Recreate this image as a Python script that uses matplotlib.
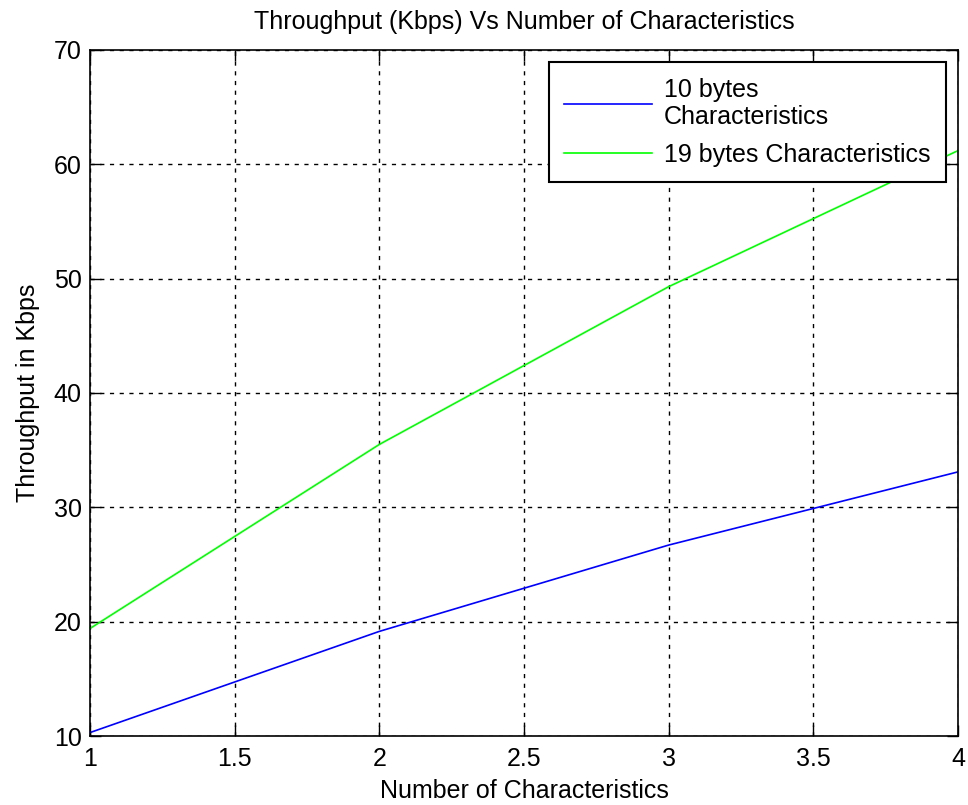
import matplotlib
matplotlib.use("Agg")
import matplotlib.pyplot as plt

plt.rcParams['font.family'] = ['Liberation Sans', 'DejaVu Sans']

num_chars = [1, 2, 3, 4]
thr_10 = [10.3, 19.15, 26.7, 33.1]
thr_19 = [19.4, 35.5, 49.3, 61.2]
labels = ['10 bytes\nCharacteristics', '19 bytes Characteristics']
xticks = [1, 1.5, 2, 2.5, 3, 3.5, 4]
yticks = [10, 20, 30, 40, 50, 60, 70]

FS = 18

fig = plt.figure(figsize=(9.68, 8.05), dpi=100)
ax = fig.add_axes([90/968, 1-736/805, (958-90)/968, (736-50)/805])

ax.plot(num_chars, thr_10, color='#0000ff', lw=1.2, label=labels[0])
ax.plot(num_chars, thr_19, color='#00ff00', lw=1.2, label=labels[1])

ax.set_xlim(1, 4)
ax.set_ylim(10, 70)
ax.set_xticks(xticks)
ax.set_xticklabels(['1', '1.5', '2', '2.5', '3', '3.5', '4'])
ax.set_yticks(yticks)
ax.grid(True, color='black', linestyle=(0, (3, 4)), linewidth=1)
ax.tick_params(direction='in', length=8, width=1, top=True, right=True,
               labelsize=FS, colors='black')
ax.tick_params(axis='x', pad=8)
ax.tick_params(axis='y', pad=6)
for s in ax.spines.values():
    s.set_linewidth(1.2)

ax.set_title('Throughput (Kbps) Vs Number of Characteristics', fontsize=FS, pad=15)
ax.set_xlabel('Number of Characteristics', fontsize=FS, labelpad=6)
ax.set_ylabel('Throughput in Kbps', fontsize=FS, labelpad=10)

leg = ax.legend(loc='upper right', fontsize=FS, frameon=True, fancybox=False,
                edgecolor='black', framealpha=1, borderaxespad=0.5,
                handlelength=3.5, handletextpad=0.5, labelspacing=0.55,
                borderpad=0.6)
leg.get_frame().set_linewidth(1.5)

fig.savefig('out.png', dpi=100)
